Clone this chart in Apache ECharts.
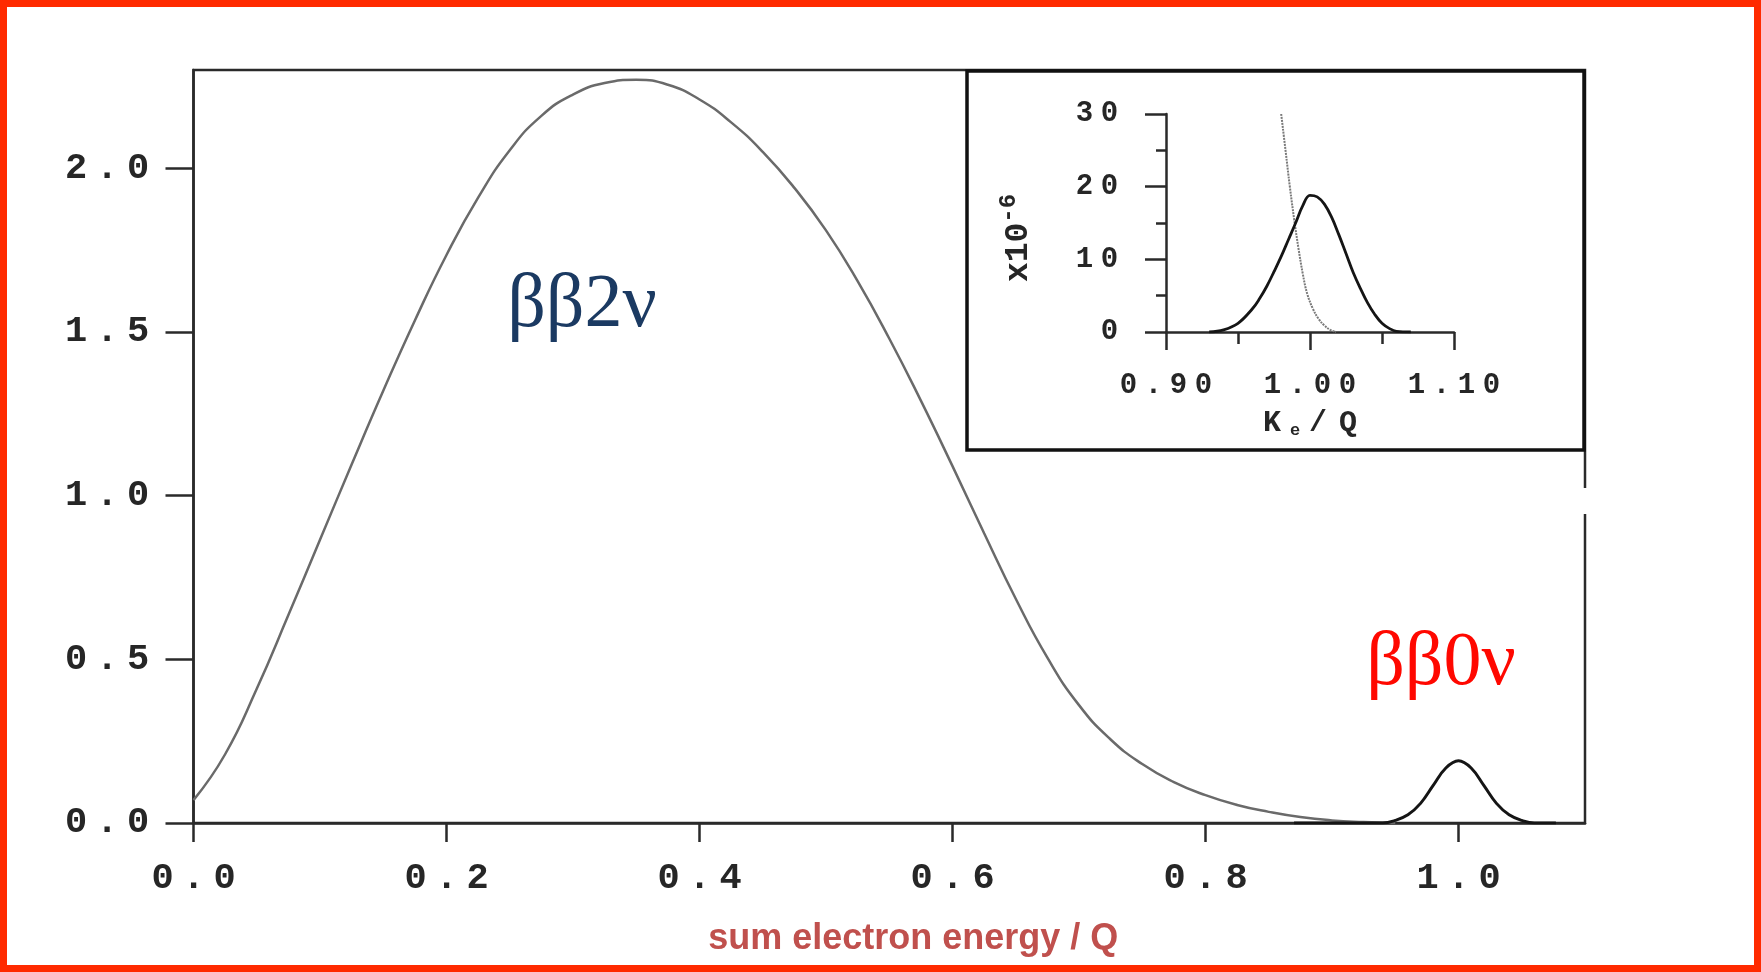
<!DOCTYPE html>
<html>
<head>
<meta charset="utf-8">
<script src="https://cdn.jsdelivr.net/npm/echarts@6/dist/echarts.min.js"></script>
<style>
html,body{margin:0;padding:0;background:#fff;}
#chart{width:1761px;height:972px;}
</style>
</head>
<body>
<div id="chart"></div>
<script>
// ---- main panel: two-neutrino spectrum (x = sum electron energy / Q) ----
const twoNuX = [0.000,0.025,0.050,0.075,0.100,0.125,0.150,0.175,0.200,0.225,0.250,0.275,0.300,0.325,0.350,0.375,0.400,0.425,0.450,0.475,0.500,0.525,0.550,0.575,0.600,0.625,0.650,0.675,0.700,0.725,0.750,0.775,0.800,0.825,0.850,0.875,0.900,0.925,0.950];
const twoNuY = [0.07,0.21,0.41,0.635,0.865,1.095,1.32,1.535,1.735,1.91,2.055,2.16,2.225,2.26,2.27,2.255,2.21,2.14,2.05,1.94,1.81,1.655,1.48,1.29,1.09,0.885,0.685,0.505,0.36,0.255,0.18,0.125,0.085,0.055,0.034,0.018,0.008,0.003,0.0];
// ---- main panel: neutrinoless peak ----
const zeroNuX = [0.87,0.93,0.94,0.95,0.96,0.97,0.98,0.99,1.00,1.01,1.02,1.03,1.04,1.05,1.06,1.07,1.077];
const zeroNuY = [0.0,0.0,0.0,0.008,0.025,0.06,0.115,0.168,0.19,0.168,0.115,0.06,0.025,0.008,0.0,0.0,0.0];
// ---- inset: peak (x10^-6) and tail of 2nu spectrum ----
const insetPeakX = [0.930,0.940,0.950,0.960,0.965,0.970,0.975,0.980,0.985,0.990,0.995,1.000,1.005,1.010,1.015,1.020,1.025,1.030,1.035,1.040,1.045,1.050,1.055,1.060,1.070];
const insetPeakY = [0,0.3,1.2,3.2,4.6,6.3,8.3,10.4,12.7,15.0,17.4,18.8,18.6,17.6,15.8,13.4,10.8,8.2,6.0,4.0,2.4,1.2,0.5,0.1,0];
const insetTailX = [0.980,0.983,0.986,0.989,0.992,0.995,0.998,1.002,1.006,1.010,1.014,1.018];
const insetTailY = [30,25,20,15.5,11.5,8,5.3,3.2,1.8,0.9,0.3,0];
// ---- tick labels ----
const mainXTicks = [0,0.2,0.4,0.6,0.8,1.0];
const mainYTicks = [0,0.5,1.0,1.5,2.0];
const insetXTicks = [0.90,1.00,1.10];
const insetYTicks = [0,10,20,30];

const pairs = (xs, ys) => xs.map((x, i) => [x, ys[i]]);
const spaced = (s, key) => s.split('').map(ch => '{' + key + '|' + ch + '}').join('');

const monoMain = {width: 31, align: 'center', fontFamily: 'Liberation Mono', fontSize: 37, fontWeight: 'bold', color: '#262626', lineHeight: 36};
const monoInset = {width: 25, align: 'center', fontFamily: 'Liberation Mono', fontSize: 29, fontWeight: 'bold', color: '#262626', lineHeight: 28};

const chart = echarts.init(document.getElementById('chart'), null, {renderer: 'canvas'});
chart.setOption({
  animation: false,
  backgroundColor: '#fff',
  grid: [
    {left: 193.5, right: 176, top: 70, bottom: 149, show: true, borderColor: '#2a2a2a', borderWidth: 2.5, backgroundColor: 'transparent'},
    {left: 1166, right: 307, top: 114, bottom: 640, show: false}
  ],
  xAxis: [
    {
      gridIndex: 0, type: 'value', min: 0, max: 1.1,
      name: 'sum electron energy / Q', nameLocation: 'middle', nameGap: 98,
      nameTextStyle: {color: '#c0504d', fontFamily: 'Liberation Sans', fontWeight: 'bold', fontSize: 36, lineHeight: 36, padding: [0, 0, 0, 48]},
      axisLine: {show: true, onZero: false, lineStyle: {color: '#2a2a2a', width: 2.5}},
      axisTick: {show: true, inside: false, length: 19, customValues: mainXTicks, lineStyle: {color: '#2a2a2a', width: 2.5}},
      axisLabel: {show: true, margin: 38, customValues: mainXTicks, formatter: v => spaced(v.toFixed(1), 'c'), rich: {c: monoMain}},
      splitLine: {show: false}
    },
    {
      gridIndex: 1, type: 'value', min: 0.9, max: 1.1, interval: 0.1,
      name: '{a|K}{b|e}{a|/}{a|Q}', nameLocation: 'middle', nameGap: 76,
      nameTextStyle: {rich: {
        a: {fontFamily: 'Liberation Mono', fontSize: 30, fontWeight: 'bold', color: '#262626', width: 30, align: 'center'},
        b: {fontFamily: 'Liberation Mono', fontSize: 17, fontWeight: 'bold', color: '#262626', padding: [14, 0, 0, 0], width: 16, align: 'center'}
      }},
      axisLine: {show: true, onZero: false, lineStyle: {color: '#2a2a2a', width: 2.5}},
      axisTick: {show: true, inside: false, length: 18, lineStyle: {color: '#2a2a2a', width: 2.5}},
      minorTick: {show: true, splitNumber: 2, length: 12, lineStyle: {color: '#2a2a2a', width: 2.5}},
      axisLabel: {show: true, margin: 40, formatter: v => spaced(v.toFixed(2), 'c'), rich: {c: monoInset}},
      splitLine: {show: false}, minorSplitLine: {show: false}
    }
  ],
  yAxis: [
    {
      gridIndex: 0, type: 'value', min: 0, max: 2.3,
      axisLine: {show: true, onZero: false, lineStyle: {color: '#2a2a2a', width: 2.5}},
      axisTick: {show: true, inside: false, length: 28, customValues: mainYTicks, lineStyle: {color: '#2a2a2a', width: 2.5}},
      axisLabel: {show: true, margin: 40, customValues: mainYTicks, formatter: v => spaced(v.toFixed(1), 'c'), rich: {c: monoMain}},
      splitLine: {show: false}
    },
    {
      gridIndex: 1, type: 'value', min: 0, max: 30, interval: 10,
      name: '{a|x10}{s|-6}', nameLocation: 'middle', nameGap: 125, nameRotate: 90,
      nameTextStyle: {padding: [0, 30, 0, 0], rich: {
        a: {fontFamily: 'Liberation Mono', fontSize: 33, fontWeight: 'bold', color: '#262626'},
        s: {fontFamily: 'Liberation Mono', fontSize: 24, fontWeight: 'bold', color: '#262626', padding: [0, 0, 20, 0]}
      }},
      axisLine: {show: true, onZero: false, lineStyle: {color: '#2a2a2a', width: 2.5}},
      axisTick: {show: true, inside: false, length: 21, lineStyle: {color: '#2a2a2a', width: 2.5}},
      minorTick: {show: true, splitNumber: 2, length: 10, lineStyle: {color: '#2a2a2a', width: 2.5}},
      axisLabel: {show: true, margin: 44, formatter: v => spaced(String(v), 'c'), rich: {c: monoInset}},
      splitLine: {show: false}, minorSplitLine: {show: false}
    }
  ],
  series: [
    {name: 'ββ2ν', type: 'line', xAxisIndex: 0, yAxisIndex: 0, data: pairs(twoNuX, twoNuY), smooth: 0.5, symbol: 'none',
      lineStyle: {color: '#6a6a6a', width: 2.5}},
    {name: 'ββ0ν', type: 'line', xAxisIndex: 0, yAxisIndex: 0, data: pairs(zeroNuX, zeroNuY), smooth: 0.4, symbol: 'none',
      lineStyle: {color: '#151515', width: 3}},
    {name: 'inset tail', type: 'line', xAxisIndex: 1, yAxisIndex: 1, data: pairs(insetTailX, insetTailY), smooth: 0.4, symbol: 'none',
      lineStyle: {color: '#7a7a7a', width: 2, type: [2, 1]}},
    {name: 'inset peak', type: 'line', xAxisIndex: 1, yAxisIndex: 1, data: pairs(insetPeakX, insetPeakY), smooth: 0.4, symbol: 'none',
      lineStyle: {color: '#151515', width: 2.8}}
  ],
  graphic: [
    {type: 'rect', z: 100, silent: true, shape: {x: 3.5, y: 3.5, width: 1754, height: 965},
      style: {fill: 'none', stroke: '#ff2a00', lineWidth: 7}},
    {type: 'rect', z: 50, silent: true, shape: {x: 967, y: 71, width: 617, height: 379},
      style: {fill: 'none', stroke: '#111', lineWidth: 3.5}},
    {type: 'rect', z: 50, silent: true, shape: {x: 1583, y: 71, width: 3, height: 379},
      style: {fill: '#111'}},
    {type: 'rect', z: 60, silent: true, shape: {x: 1578, y: 488, width: 14, height: 26},
      style: {fill: '#fff'}},
    {type: 'text', z: 60, silent: true, style: {text: 'ββ2ν', x: 582, y: 306, align: 'center', verticalAlign: 'middle',
      fontFamily: 'Liberation Serif', fontSize: 76, fill: '#1b3a62'}},
    {type: 'text', z: 60, silent: true, style: {text: 'ββ0ν', x: 1441, y: 664, align: 'center', verticalAlign: 'middle',
      fontFamily: 'Liberation Serif', fontSize: 76, fill: '#ff0800'}}
  ]
});
</script>
</body>
</html>
